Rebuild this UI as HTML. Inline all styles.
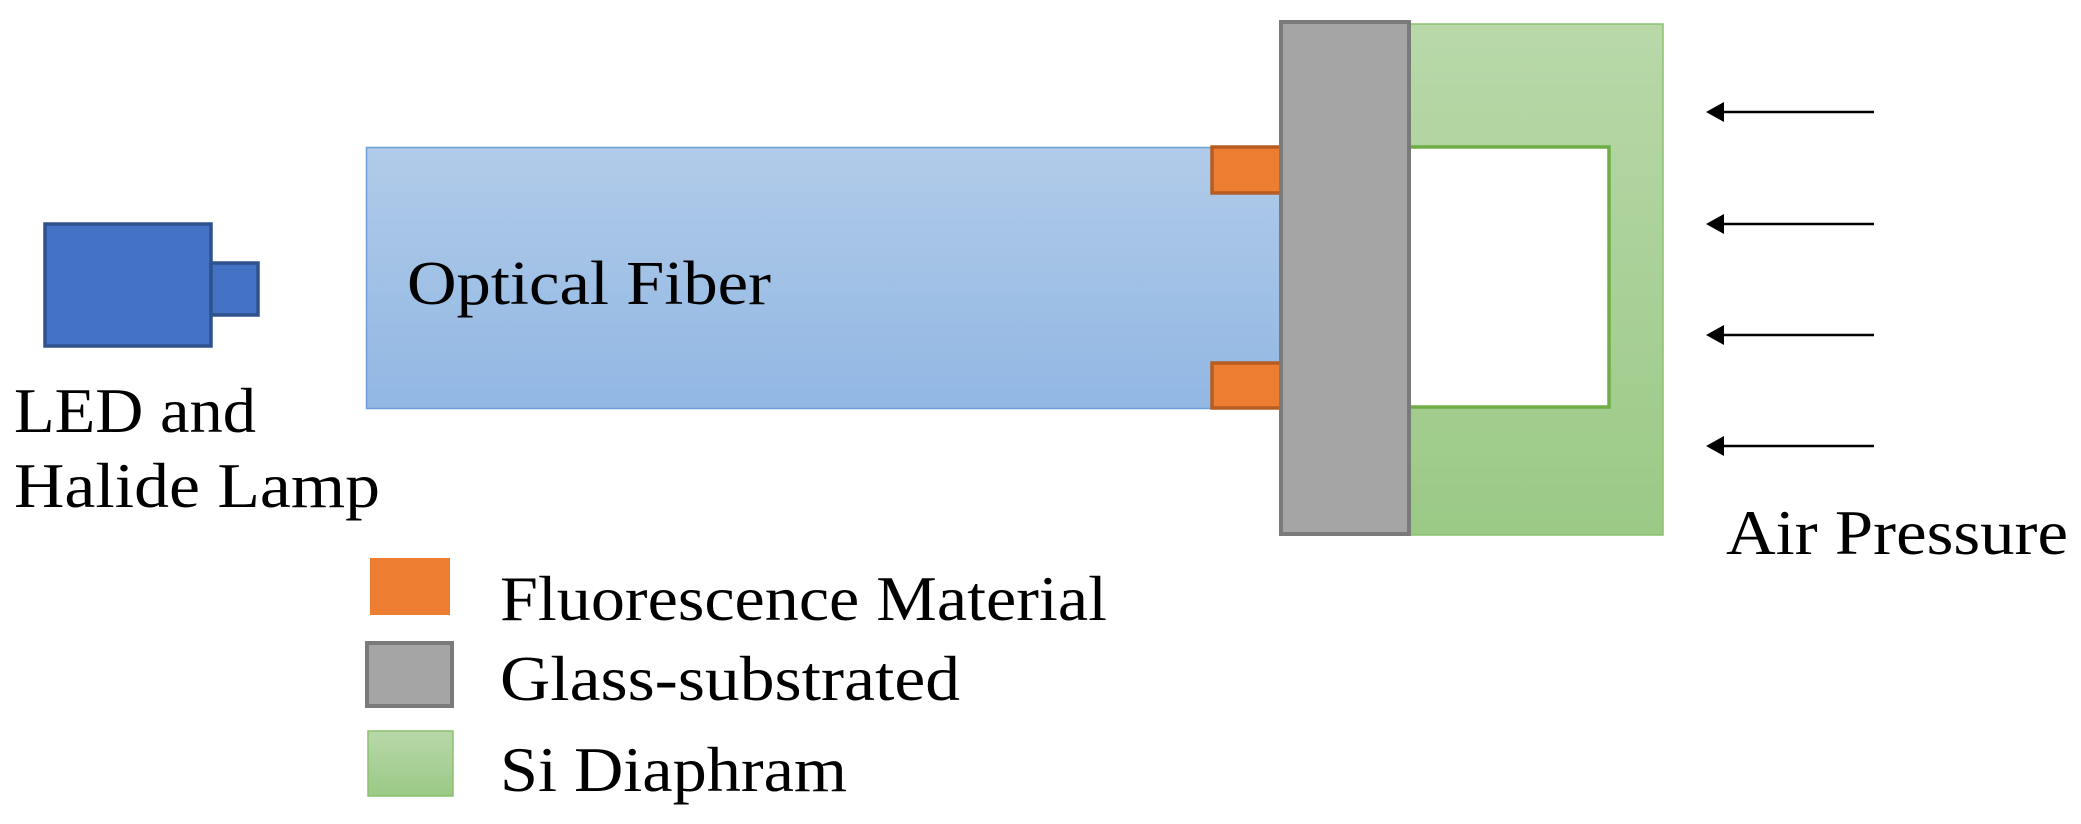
<!DOCTYPE html>
<html><head><meta charset="utf-8"><style>html,body{margin:0;padding:0;background:#fff}svg{display:block}</style></head>
<body>
<svg width="2081" height="824" viewBox="0 0 2081 824" xmlns="http://www.w3.org/2000/svg" font-family="Liberation Serif, serif" fill="#000">
<defs>
<linearGradient id="gb" x1="0" y1="0" x2="0" y2="1"><stop offset="0" stop-color="#b1cbe9"/><stop offset="1" stop-color="#91b7e3"/></linearGradient>
<linearGradient id="gg" x1="0" y1="0" x2="0" y2="1"><stop offset="0" stop-color="#b8d8a9"/><stop offset="1" stop-color="#9bc986"/></linearGradient>
</defs>
<!-- LED -->
<rect x="45" y="224" width="166" height="122" fill="#4472c4" stroke="#2f528f" stroke-width="3.5"/>
<rect x="211" y="263" width="47" height="52" fill="#4472c4" stroke="#2f528f" stroke-width="3.5"/>
<!-- Fiber -->
<rect x="366.5" y="147.5" width="915" height="261" fill="url(#gb)" stroke="#6a9fd8" stroke-width="1.5"/>
<!-- orange pads -->
<rect x="1212" y="147" width="69" height="46" fill="#ed7d31" stroke="#b55d22" stroke-width="3.5"/>
<rect x="1212" y="363" width="69" height="45" fill="#ed7d31" stroke="#b55d22" stroke-width="3.5"/>
<!-- Green diaphragm -->
<rect x="1409" y="24" width="254" height="511" fill="url(#gg)" stroke="#8cc06f" stroke-width="1.5"/>
<rect x="1409" y="147" width="200" height="260" fill="#fff" stroke="#70ad47" stroke-width="3.5"/>
<!-- Glass -->
<rect x="1281" y="22" width="128" height="512" fill="#a5a5a5" stroke="#7a7a7a" stroke-width="4"/>
<!-- arrows -->
<g stroke="#000" stroke-width="2.5">
<line x1="1722" y1="112" x2="1874" y2="112"/>
<line x1="1722" y1="224" x2="1874" y2="224"/>
<line x1="1722" y1="335" x2="1874" y2="335"/>
<line x1="1722" y1="446" x2="1874" y2="446"/>
</g>
<g>
<polygon points="1706,112 1724,102 1724,122"/>
<polygon points="1706,224 1724,214 1724,234"/>
<polygon points="1706,335 1724,325 1724,345"/>
<polygon points="1706,446 1724,436 1724,456"/>
</g>
<!-- texts -->
<text x="407" y="304" font-size="62" textLength="364" lengthAdjust="spacingAndGlyphs">Optical Fiber</text>
<text x="14" y="432" font-size="64" textLength="242" lengthAdjust="spacingAndGlyphs">LED and</text>
<text x="14" y="507" font-size="64" textLength="366" lengthAdjust="spacingAndGlyphs">Halide Lamp</text>
<text x="1726" y="554" font-size="64" textLength="342" lengthAdjust="spacingAndGlyphs">Air Pressure</text>
<!-- legend -->
<rect x="370" y="558" width="80" height="57" fill="#ed7d31"/>
<rect x="367" y="643" width="85" height="63" fill="#a5a5a5" stroke="#7a7a7a" stroke-width="4"/>
<rect x="368" y="731" width="85" height="65" fill="url(#gg)" stroke="#8cc06f" stroke-width="1.5"/>
<text x="500" y="620" font-size="64" textLength="607" lengthAdjust="spacingAndGlyphs">Fluorescence Material</text>
<text x="500" y="700" font-size="64" textLength="460" lengthAdjust="spacingAndGlyphs">Glass-substrated</text>
<text x="500" y="791" font-size="64" textLength="347" lengthAdjust="spacingAndGlyphs">Si Diaphram</text>
</svg>
</body></html>
